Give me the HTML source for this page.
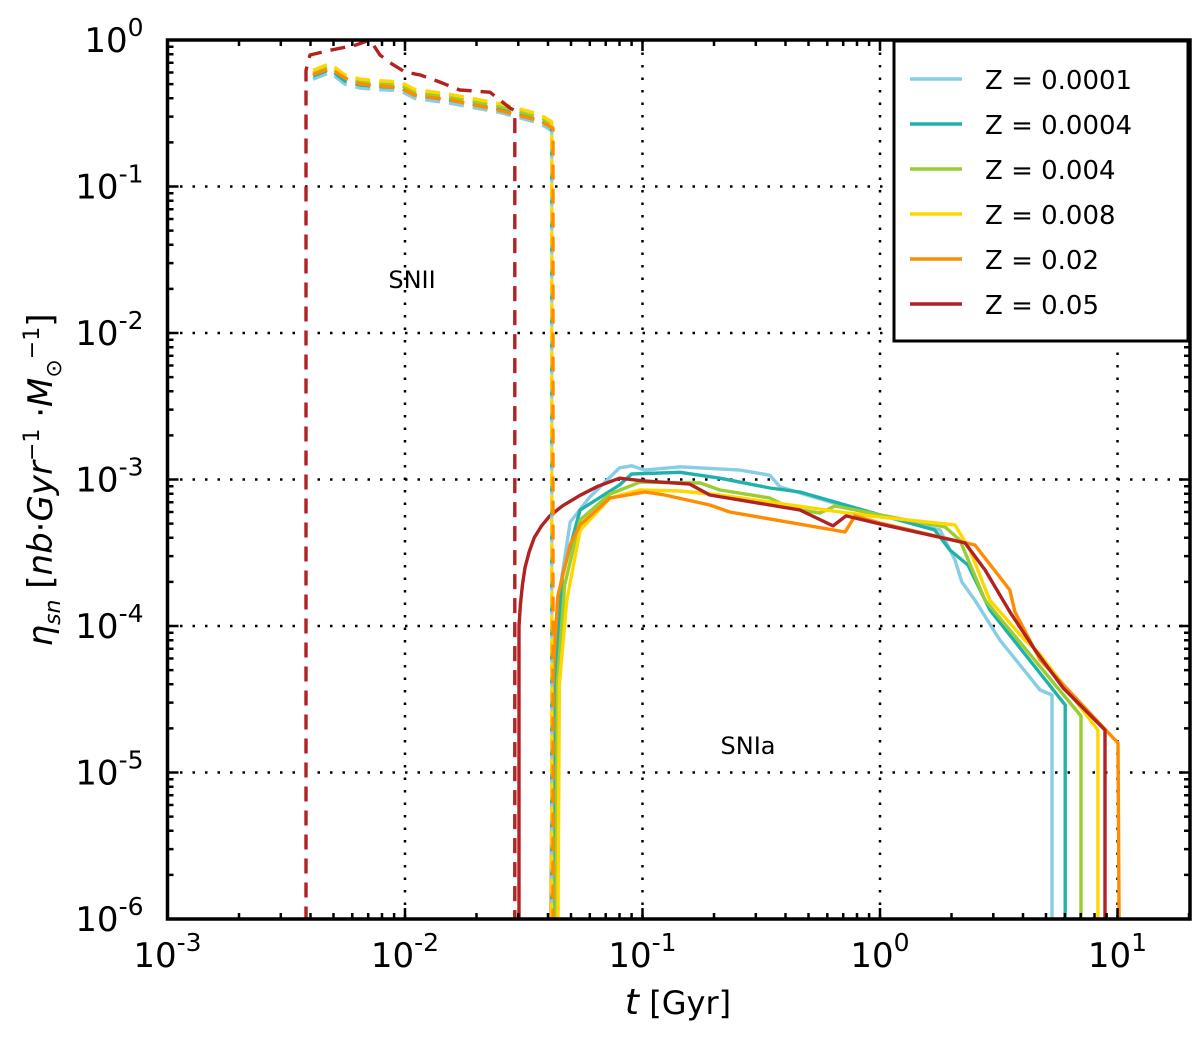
<!DOCTYPE html>
<html><head><meta charset="utf-8"><style>
body{margin:0;background:#fff}
svg text{font-family:"DejaVu Sans","Liberation Sans",sans-serif}
</style></head><body>
<svg id="c" width="1200" height="1034" viewBox="0 0 1200 1034"></svg>
<script>
const series = ["Z = 0.0001","Z = 0.0004","Z = 0.004","Z = 0.008","Z = 0.02","Z = 0.05"];
const colors = ["#87cde6","#20b2aa","#9acd32","#ffd700","#ff8c00","#b22222"];
const xTicks = [-3,-2,-1,0,1];
const yTicks = [0,-1,-2,-3,-4,-5,-6];
// SNII (dashed) t [Gyr], eta
const snIIt_blue = [0.0041,0.00483,0.00559,0.00647,0.00748,0.00953,0.011,0.0155,0.0251,0.037,0.0415,0.0415];
const snIIe_blue = [0.54,0.6,0.5,0.47,0.46,0.45,0.4,0.37,0.32,0.27,0.24,1e-7];
const snIIt_orange = [0.0041,0.00483,0.00559,0.00647,0.00748,0.00953,0.011,0.0155,0.0251,0.037,0.042,0.042];
const snIIe_orange = [0.58,0.64,0.55,0.5,0.49,0.47,0.42,0.39,0.33,0.28,0.25,1e-7];
const snIIt_red = [0.00383,0.00383,0.00398,0.00483,0.00615,0.00713,0.00785,0.00865,0.01,0.0116,0.014,0.017,0.0228,0.0277,0.029,0.029];
const snIIe_red = [1e-7,0.62,0.79,0.85,0.92,1.0,0.79,0.70,0.605,0.577,0.517,0.456,0.44,0.343,0.33,1e-7];
// SNIa (solid)
const snIa = [
 {t:[0.0415,0.0425,0.045,0.0496,0.060,0.080,0.090,0.1025,0.144,0.257,0.344,0.379,0.679,1,1.79,2.07,2.21,2.51,3.20,4.72,5.30,5.30],
  e:[1e-7,4e-5,1.8e-4,5.13e-4,7.6e-4,1.2e-3,1.24e-3,1.16e-3,1.22e-3,1.16e-3,1.07e-3,8.9e-4,6.7e-4,5.73e-4,4.52e-4,2.82e-4,2.0e-4,1.5e-4,8.0e-5,3.66e-5,3.38e-5,1e-7]},
 {t:[0.042,0.043,0.046,0.0546,0.080,0.090,0.144,0.212,0.344,0.46,1,1.70,1.97,2.35,2.90,6.02,6.02],
  e:[1e-7,4e-5,2.2e-4,6.19e-4,9.17e-4,1.09e-3,1.12e-3,1.02e-3,8.75e-4,8.22e-4,5.73e-4,4.52e-4,3.3e-4,2.6e-4,1.29e-4,2.89e-5,1e-7]},
 {t:[0.0428,0.0438,0.047,0.0546,0.073,0.0975,0.175,0.212,0.344,0.418,0.558,0.647,1,1.88,2.17,2.77,7.02,7.02],
  e:[1e-7,4e-5,1.9e-4,5.3e-4,7.96e-4,9.6e-4,9.46e-4,8.48e-4,7.48e-4,6.38e-4,5.9e-4,6.6e-4,5.73e-4,4.74e-4,3.86e-4,1.5e-4,2.43e-5,1e-7]},
 {t:[0.0437,0.0447,0.048,0.0546,0.073,0.0975,0.144,0.212,0.679,1,2.07,2.39,2.90,4.08,4.63,8.27,8.27],
  e:[1e-7,4e-5,1.5e-4,4.5e-4,7.48e-4,8.48e-4,8.35e-4,7.84e-4,6.0e-4,5.55e-4,4.89e-4,3.3e-4,1.5e-4,8.0e-5,6.65e-5,1.95e-5,1e-7]},
 {t:[0.0408,0.0418,0.044,0.0496,0.0546,0.073,0.1025,0.124,0.192,0.233,0.713,0.785,1,2.51,3.52,3.70,4.72,10.05,10.25],
  e:[1e-7,4e-5,1.6e-4,3.6e-4,4.9e-4,7.48e-4,8.22e-4,7.84e-4,6.7e-4,6.0e-4,4.38e-4,5.64e-4,5.05e-4,3.57e-4,1.76e-4,1.25e-4,5.86e-5,1.59e-5,1e-7]},
 {t:[0.0302,0.0302,0.0306,0.0312,0.032,0.0333,0.035,0.0375,0.0405,0.046,0.0546,0.065,0.080,0.1,0.158,0.192,0.46,0.634,0.72,1,2.28,2.77,3.52,4.50,5.90,8.86,8.86],
  e:[1e-7,1e-4,1.4e-4,1.9e-4,2.5e-4,3.2e-4,4.0e-4,4.8e-4,5.6e-4,6.6e-4,7.8e-4,9.0e-4,1.02e-3,9.8e-4,9.3e-4,7.84e-4,6.19e-4,4.82e-4,5.64e-4,4.97e-4,3.69e-4,2.41e-4,1.25e-4,6.86e-5,3.78e-5,1.95e-5,1e-7]}
];
const L=167.5,T=40,R=1190,B=919,DX=237.5,DY=146.5;
const X=t=>L+DX*(Math.log10(t)+3);
const Y=e=>T-DY*Math.log10(e);
const svg=document.getElementById('c');
const NS="http://www.w3.org/2000/svg";
function mk(tag,attrs,parent){const el=document.createElementNS(NS,tag);for(const k in attrs)el.setAttribute(k,attrs[k]);(parent||svg).appendChild(el);return el;}
const defs=mk('defs',{});const cp=mk('clipPath',{id:'clip'},defs);mk('rect',{x:L,y:T,width:R-L,height:B-T},cp);
xTicks.forEach(p=>{if(p===-3)return;const g=mk('line',{x1:X(10**p),x2:X(10**p),y1:T,y2:B,stroke:'#000','stroke-width':2.5,'stroke-dasharray':'2.5 10'});

});
yTicks.forEach(p=>{if(p===0||p===-6)return;const g=mk('line',{x1:L,x2:R,y1:Y(10**p),y2:Y(10**p),stroke:'#000','stroke-width':2.5,'stroke-dasharray':'2.5 10'});

});
const plot=mk('g',{'clip-path':'url(#clip)'});
function line(ts,es,col,dash,name){const d=ts.map((t,i)=>(i?'L':'M')+X(t).toFixed(1)+' '+Y(es[i]).toFixed(1)).join(' ');
const p=mk('path',{d:d,fill:'none',stroke:col,'stroke-width':3.4,'stroke-linejoin':'round','stroke-dasharray':dash?'15 9':'none'},plot);

}
snIa.forEach((s,i)=>line(s.t,s.e,colors[i],false,'snia-line-'+i));
[0,1,2,3].forEach(i=>line(snIIt_blue,snIIe_blue.map(v=>v*(1+0.05*i)),colors[i],true,'snii-line-'+i));
line(snIIt_orange,snIIe_orange,colors[4],true,'snii-line-4');
line(snIIt_red,snIIe_red,colors[5],true,'snii-line-5');
let td='';
for(let p=-3;p<=1;p++){for(let m=1;m<10;m++){const x=X(m*Math.pow(10,p));if(x>R)break;const len=m===1?11:6;
td+='M'+x.toFixed(1)+' '+B+'v'+(-len)+'M'+x.toFixed(1)+' '+T+'v'+len;}}
for(let p=-6;p<0;p++){for(let m=1;m<10;m++){const y=Y(m*Math.pow(10,p));const len=m===1?11:6;
td+='M'+L+' '+y.toFixed(1)+'h'+len+'M'+R+' '+y.toFixed(1)+'h'+(-len);}}
const tk=mk('path',{d:td,stroke:'#000','stroke-width':2.5,fill:'none'});


const fr=mk('rect',{x:L,y:T,width:R-L,height:B-T,fill:'none',stroke:'#000','stroke-width':3.5});


xTicks.forEach(p=>{const t=mk('text',{x:X(10**p),y:B+48,'text-anchor':'middle','font-size':34});t.innerHTML='10<tspan dy="-16" font-size="25">'+p+'</tspan>';

});
yTicks.forEach(p=>{const t=mk('text',{x:L-24,y:Y(10**p)+12,'text-anchor':'end','font-size':34});t.innerHTML='10<tspan dy="-16" font-size="25">'+p+'</tspan>';

});
</script>
<svg width="1200" height="1034" style="position:absolute;left:0;top:0">
<text x="412" y="288" font-size="24" text-anchor="middle" font-family="DejaVu Sans,sans-serif">SNII</text>
<text x="748" y="754" font-size="24" text-anchor="middle" font-family="DejaVu Sans,sans-serif">SNIa</text>
<text x="678" y="1014" font-size="36" text-anchor="middle" font-family="Liberation Serif,serif"><tspan font-style="italic">t</tspan><tspan font-family="DejaVu Sans,sans-serif" font-size="32"> [Gyr]</tspan></text>
<text transform="translate(52,480) rotate(-90)" font-size="34" text-anchor="middle" font-family="Liberation Serif,serif"><tspan font-style="italic">η</tspan><tspan font-style="italic" font-size="22" dy="8">sn</tspan><tspan dy="-8"> [</tspan><tspan font-style="italic">nb</tspan>·<tspan font-style="italic">Gyr</tspan><tspan font-size="22" dy="-13">−1</tspan><tspan dy="13"> ·</tspan><tspan font-style="italic">M</tspan><tspan font-size="22" dy="9">⊙</tspan><tspan font-size="22" dy="-22">−1</tspan><tspan dy="13">]</tspan></text>
<g>
<rect x="894" y="41" width="294" height="300" fill="#fff" stroke="#000" stroke-width="3"/>
<g font-size="26" font-family="DejaVu Sans,sans-serif">
<g><line x1="910" x2="962" y1="79" y2="79" stroke="#87cde6" stroke-width="3.4"/><text x="985" y="89">Z = 0.0001</text></g>
<g><line x1="910" x2="962" y1="124" y2="124" stroke="#20b2aa" stroke-width="3.4"/><text x="985" y="134">Z = 0.0004</text></g>
<g><line x1="910" x2="962" y1="169" y2="169" stroke="#9acd32" stroke-width="3.4"/><text x="985" y="179">Z = 0.004</text></g>
<g><line x1="910" x2="962" y1="214" y2="214" stroke="#ffd700" stroke-width="3.4"/><text x="985" y="224">Z = 0.008</text></g>
<g><line x1="910" x2="962" y1="259" y2="259" stroke="#ff8c00" stroke-width="3.4"/><text x="985" y="269">Z = 0.02</text></g>
<g><line x1="910" x2="962" y1="304" y2="304" stroke="#b22222" stroke-width="3.4"/><text x="985" y="314">Z = 0.05</text></g>
</g></g>
</svg>
</body></html>
